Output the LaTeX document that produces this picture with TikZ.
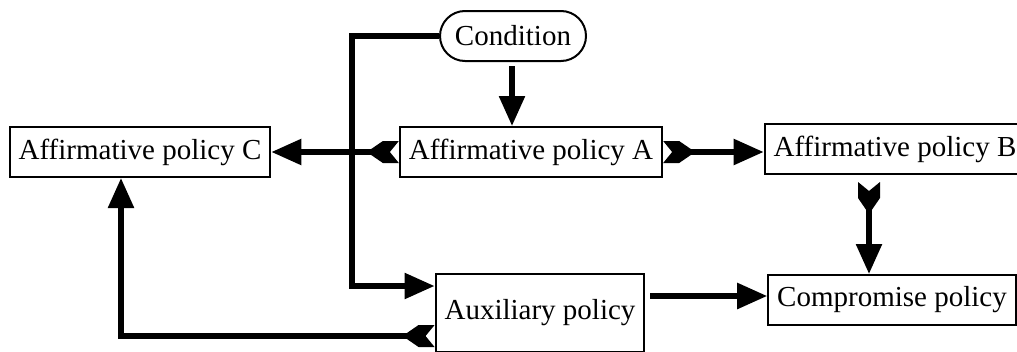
\documentclass[tikz,border=0pt]{standalone}
\usepackage{fontspec}
\setmainfont{Liberation Serif}
\usetikzlibrary{arrows.meta,shapes.misc}

% feathered tail for the links that leave a policy box
\pgfdeclarearrow{
  name = Fletch,
  setup code = {
    \pgfarrowssettipend{0pt}
    \pgfarrowssetlineend{-14pt}
    \pgfarrowssetvisualbackend{-28pt}
    \pgfarrowssetbackend{-28pt}
    \pgfarrowsupperhullpoint{0pt}{11pt}
    \pgfarrowsupperhullpoint{-28pt}{3pt}
  },
  drawing code = {
    \pgfpathmoveto{\pgfqpoint{0pt}{11pt}}
    \pgfpathlineto{\pgfqpoint{-9pt}{0pt}}
    \pgfpathlineto{\pgfqpoint{0pt}{-11pt}}
    \pgfpathlineto{\pgfqpoint{-16pt}{-11pt}}
    \pgfpathlineto{\pgfqpoint{-28pt}{-2.75pt}}
    \pgfpathlineto{\pgfqpoint{-28pt}{2.75pt}}
    \pgfpathlineto{\pgfqpoint{-16pt}{11pt}}
    \pgfpathclose
    \pgfusepathqfill
  }
}

\begin{document}
\begin{tikzpicture}[x=1pt,y=-1pt,line width=5.5pt,
                    >={Triangle[length=30pt,width=25pt]},
                    box/.style={draw,line width=2pt,minimum height=50pt,inner xsep=9pt,
                                font=\fontsize{29}{34}\selectfont}]
  \useasboundingbox (0,0) rectangle (1017,351);

  \node[box,rounded rectangle,minimum width=164pt] (Cond) at (513,36) {Condition};
  \node[box]                    (A)    at (531,152) {Affirmative policy A};
  \node[box]                    (B)    at (895,149) {Affirmative policy B};
  \node[box]                    (C)    at (140,152) {Affirmative policy C};
  \node[box,minimum height=78pt] (Aux) at (540,313) {Auxiliary policy};
  \node[box]                    (Comp) at (892,300) {Compromise policy};

  \draw[->] (Cond.west) -- ++(-87,0) |- ([yshift=27pt]Aux.west);
  \draw[->,shorten <=4pt] ([xshift=-1pt]Cond.south) -- ([xshift=-1pt]Cond.south |- A.north);
  \draw[Fletch->] (A.west) -- (C.east);
  \draw[Fletch->] (A.east) -- (A.east -| B.west);
  \draw[Fletch->,shorten <=7pt] ([xshift=-26pt]B.south) -- ([xshift=-26pt]B.south |- Comp.north);
  \draw[->,shorten <=5pt] ([yshift=17pt]Aux.east) -- ([yshift=17pt]Aux.east -| Comp.west);
  \draw[Fletch->] ([yshift=-23pt]Aux.west) -| ([xshift=-19pt]C.south);
\end{tikzpicture}
\end{document}
